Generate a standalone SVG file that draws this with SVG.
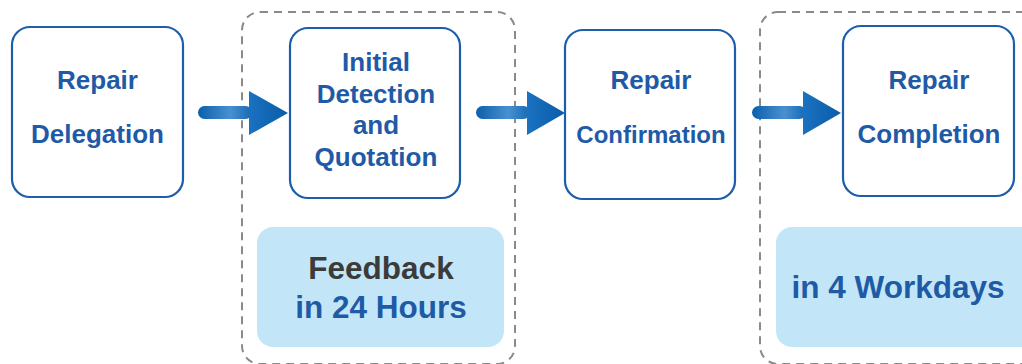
<svg xmlns="http://www.w3.org/2000/svg" width="1022" height="364" viewBox="0 0 1022 364">
<style>
.node{fill:#fff;stroke:#1c5eab;stroke-width:2.2}
.grp{fill:none;stroke:#8a8a8a;stroke-width:2;stroke-dasharray:8 6}
.note{fill:#c2e6f8}
.t{font-family:"Liberation Sans",Arial,sans-serif;font-weight:bold;fill:#1f5aa6;text-anchor:middle}
.n{font-size:26px}
.big{font-size:31.5px}
.dark{fill:#3b3b3b}
</style>
<defs>
<linearGradient id="sh" x1="0" y1="0" x2="1" y2="0">
<stop offset="0" stop-color="#0b5fab"/>
<stop offset="0.6" stop-color="#4a90d0"/>
<stop offset="1" stop-color="#1468b5"/>
</linearGradient>
<linearGradient id="hd" x1="0" y1="0" x2="1" y2="0">
<stop offset="0" stop-color="#1a72c0"/>
<stop offset="1" stop-color="#0a5ca8"/>
</linearGradient>
</defs>
<g id="groups">
<rect class="grp" x="242" y="12" width="273" height="352" rx="18"/>
<rect class="grp" x="760" y="12" width="290" height="352" rx="18"/>
</g>
<g id="connectors">
<g id="arrow1">
<rect x="198" y="106" width="54" height="13" rx="6.5" fill="url(#sh)"/>
<polygon points="249,91 288,113 249,135" fill="url(#hd)"/>
</g>
<g id="arrow2">
<rect x="476" y="106" width="54" height="13" rx="6.5" fill="url(#sh)"/>
<polygon points="527,91 565,113 527,135" fill="url(#hd)"/>
</g>
<g id="arrow3">
<rect x="752" y="106" width="54" height="13" rx="6.5" fill="url(#sh)"/>
<polygon points="803,91 841,113 803,135" fill="url(#hd)"/>
</g>
</g>
<g id="node-delegation">
<rect class="node" x="12" y="27" width="171" height="170" rx="18"/>
<text class="t n" x="97.5" y="89">Repair</text>
<text class="t n" x="97.5" y="143">Delegation</text>
</g>
<g id="node-detection">
<rect class="node" x="290" y="28" width="170" height="170" rx="18"/>
<text class="t n" x="376" y="71">Initial</text>
<text class="t n" x="376" y="102.5">Detection</text>
<text class="t n" x="376" y="134">and</text>
<text class="t n" x="376" y="166">Quotation</text>
</g>
<g id="node-confirmation">
<rect class="node" x="565" y="30" width="170" height="169" rx="18"/>
<text class="t n" x="651" y="89">Repair</text>
<text class="t" style="font-size:24px" x="651" y="143">Confirmation</text>
</g>
<g id="node-completion">
<rect class="node" x="843" y="26" width="171" height="170" rx="18"/>
<text class="t n" x="929" y="89">Repair</text>
<text class="t n" x="929" y="143">Completion</text>
</g>
<g id="note-feedback">
<rect class="note" x="257" y="227" width="247" height="120" rx="16"/>
<text class="t big dark" x="381" y="279">Feedback</text>
<text class="t big" x="381" y="318">in 24 Hours</text>
</g>
<g id="note-workdays">
<rect class="note" x="776" y="227" width="270" height="120" rx="16"/>
<text class="t big" x="898" y="298">in 4 Workdays</text>
</g>
</svg>
